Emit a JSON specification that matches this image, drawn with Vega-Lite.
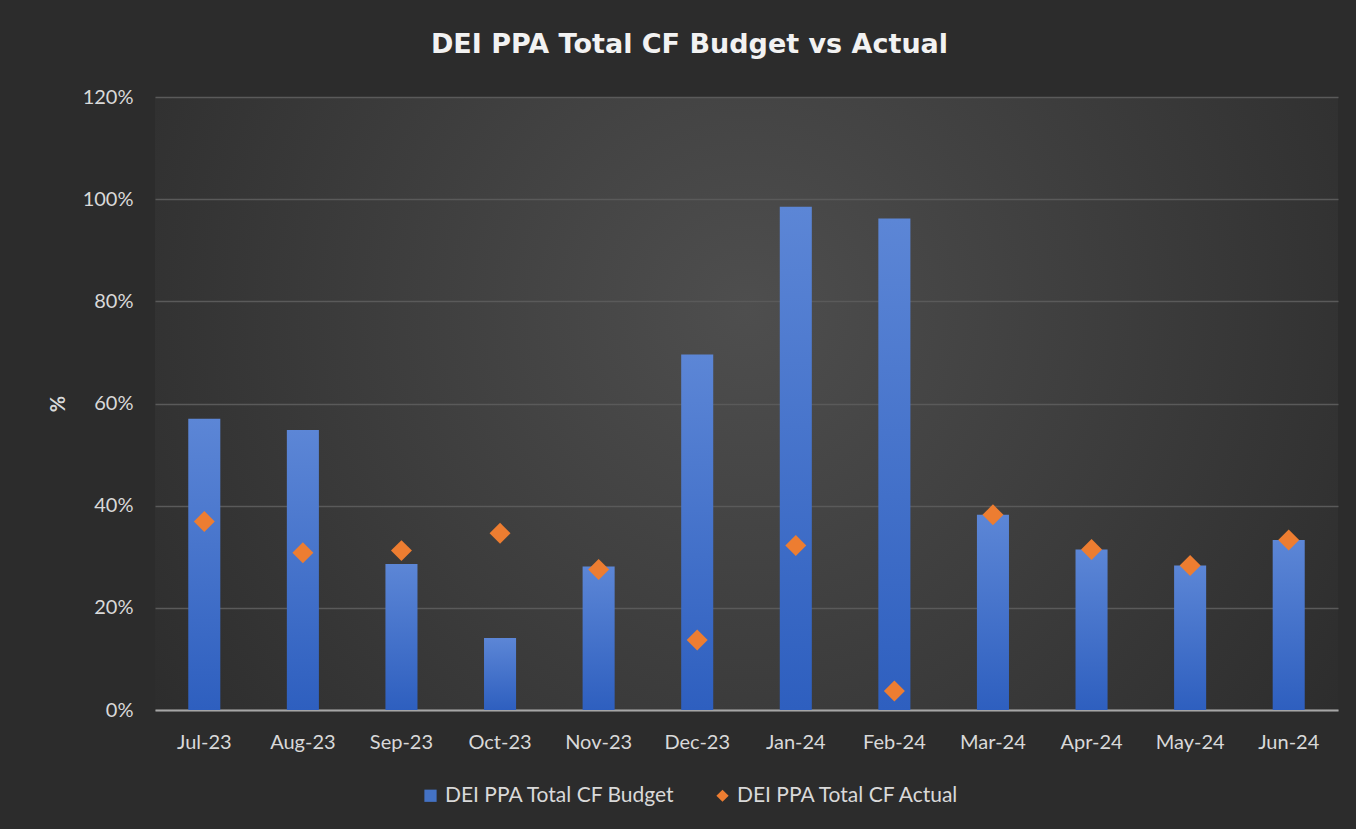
{
  "$schema": "https://vega.github.io/schema/vega-lite/v6.json",
  "width": 1183,
  "height": 613,
  "autosize": "none",
  "padding": {"left": 155, "right": 18, "top": 97, "bottom": 119},
  "background": "#2c2c2c",
  "title": {
    "text": "DEI PPA Total CF Budget vs Actual",
    "fontSize": 27,
    "font": "DejaVu Sans",
    "fontWeight": "bold",
    "color": "#f2f2f2",
    "anchor": "middle",
    "offset": 28,
    "dx": -57
  },
  "config": {
    "view": {
      "stroke": null,
      "fill": {
        "gradient": "radial",
        "x1": 0.5, "y1": 0.42, "r1": 0,
        "x2": 0.5, "y2": 0.42, "r2": 0.62,
        "stops": [
          {"offset": 0, "color": "#4e4e4e"},
          {"offset": 1, "color": "#2c2c2c"}
        ]
      }
    },
    "axis": {
      "labelFont": "Lato",
      "titleFont": "Lato",
      "labelColor": "#d9d9d9",
      "titleColor": "#d9d9d9",
      "labelFontSize": 20,
      "titleFontSize": 20
    },
    "legend": {
      "labelFont": "Lato",
      "labelColor": "#d9d9d9",
      "labelFontSize": 21
    }
  },
  "data": {
    "values": [
      {"month": "Jul-23", "budget": 0.570, "actual": 0.369},
      {"month": "Aug-23", "budget": 0.548, "actual": 0.308},
      {"month": "Sep-23", "budget": 0.286, "actual": 0.312},
      {"month": "Oct-23", "budget": 0.141, "actual": 0.346},
      {"month": "Nov-23", "budget": 0.281, "actual": 0.275},
      {"month": "Dec-23", "budget": 0.696, "actual": 0.137},
      {"month": "Jan-24", "budget": 0.985, "actual": 0.322},
      {"month": "Feb-24", "budget": 0.962, "actual": 0.037},
      {"month": "Mar-24", "budget": 0.382, "actual": 0.382},
      {"month": "Apr-24", "budget": 0.314, "actual": 0.314},
      {"month": "May-24", "budget": 0.283, "actual": 0.283},
      {"month": "Jun-24", "budget": 0.333, "actual": 0.333}
    ]
  },
  "encoding": {
    "x": {
      "field": "month",
      "type": "nominal",
      "sort": null,
      "scale": {"paddingInner": 0.675, "paddingOuter": 0.3375},
      "axis": {
        "title": null,
        "labelAngle": 0,
        "ticks": false,
        "domainColor": "#a6a6a6",
        "domainWidth": 2,
        "labelPadding": 22,
        "grid": false
      }
    }
  },
  "layer": [
    {
      "mark": {
        "type": "bar",
        "fill": {
          "gradient": "linear",
          "x1": 0, "y1": 0, "x2": 0, "y2": 1,
          "stops": [
            {"offset": 0, "color": "#5c86d6"},
            {"offset": 1, "color": "#2e5fbf"}
          ]
        }
      },
      "encoding": {
        "y": {
          "field": "budget",
          "type": "quantitative",
          "scale": {"domain": [0, 1.2], "nice": false},
          "axis": {
            "title": "%",
            "titleAngle": -90,
            "titlePadding": 14,
            "format": ".0%",
            "values": [0, 0.2, 0.4, 0.6, 0.8, 1.0, 1.2],
            "ticks": false,
            "domain": false,
            "labelPadding": 22,
            "gridColor": "#5a5a5a",
            "gridWidth": 1.5
          }
        }
      }
    },
    {
      "mark": {"type": "point", "filled": true, "size": 440, "opacity": 1},
      "encoding": {
        "y": {"field": "actual", "type": "quantitative"},
        "color": {
          "datum": "DEI PPA Total CF Actual",
          "type": "nominal",
          "scale": {
            "domain": ["DEI PPA Total CF Budget", "DEI PPA Total CF Actual"],
            "range": ["#4472c4", "#ed7d31"]
          },
          "legend": {
            "title": null,
            "orient": "none",
            "legendX": 265,
            "legendY": 688,
            "direction": "horizontal",
            "symbolSize": 150,
            "columnPadding": 36,
            "labelLimit": 400,
            "symbolOpacity": 1
          }
        },
        "shape": {
          "datum": "DEI PPA Total CF Actual",
          "type": "nominal",
          "scale": {
            "domain": ["DEI PPA Total CF Budget", "DEI PPA Total CF Actual"],
            "range": ["square", "diamond"]
          },
          "legend": {
            "title": null,
            "orient": "none",
            "legendX": 265,
            "legendY": 688,
            "direction": "horizontal",
            "symbolSize": 150,
            "columnPadding": 36,
            "labelLimit": 400,
            "symbolOpacity": 1
          }
        }
      }
    }
  ]
}
